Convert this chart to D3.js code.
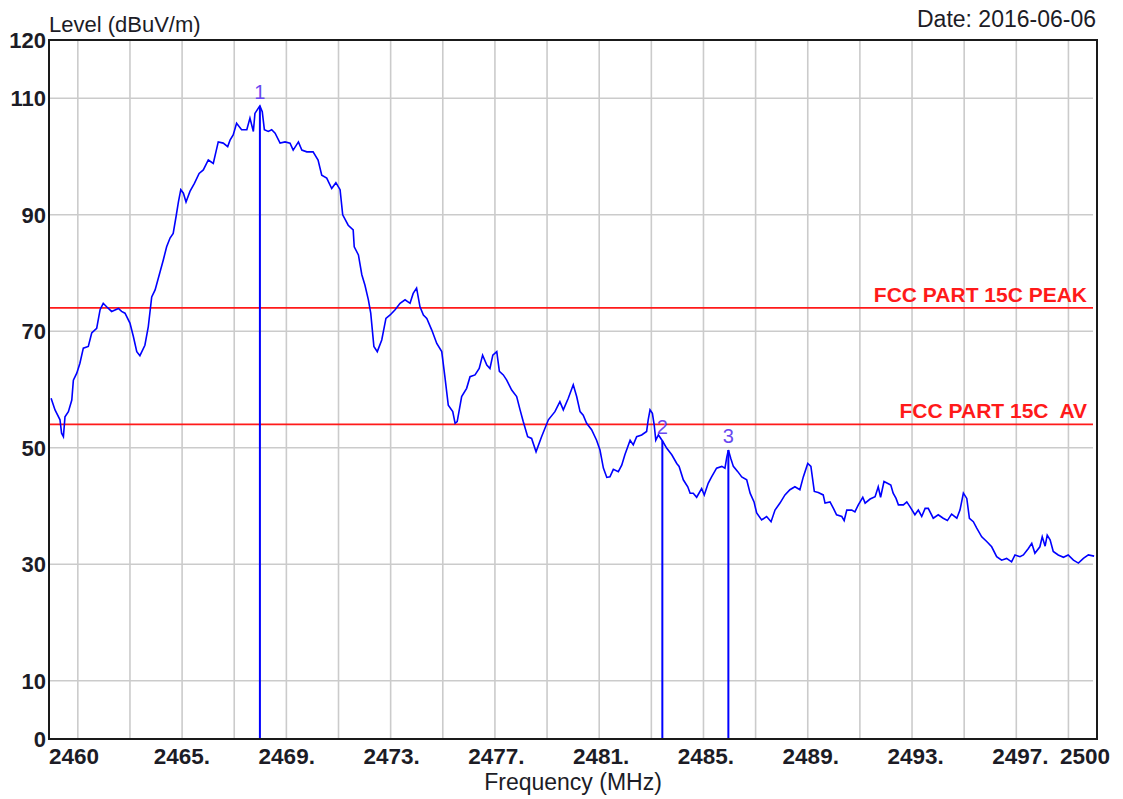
<!DOCTYPE html>
<html>
<head>
<meta charset="utf-8">
<script src="https://cdn.jsdelivr.net/npm/d3@7"></script>
<style>
  html, body { margin: 0; padding: 0; background: #fff; }
  text { font-family: "Liberation Sans", Arial, sans-serif; }
</style>
</head>
<body>
<div id="viz"></div>
<script>
'use strict';

// trace: [frequency MHz, level dBuV/m]
const trace = [
  [2460.08, 58.5], [2460.23, 56.5], [2460.42, 54.8], [2460.48, 52.5], [2460.55, 51.9],
  [2460.61, 55.3], [2460.74, 56.2], [2460.87, 58.2], [2460.93, 61.6], [2461.06, 62.8],
  [2461.18, 64.5], [2461.31, 67.1], [2461.50, 67.4], [2461.63, 69.7], [2461.82, 70.5],
  [2461.95, 73.7], [2462.07, 74.8], [2462.20, 74.2], [2462.39, 73.4], [2462.65, 73.9],
  [2462.77, 73.4], [2462.90, 73.1], [2463.09, 71.4], [2463.22, 69.1], [2463.35, 66.5],
  [2463.47, 65.8], [2463.66, 67.6], [2463.79, 70.8], [2463.92, 75.9], [2464.05, 77.1],
  [2464.24, 80.2], [2464.36, 82.2], [2464.49, 84.5], [2464.62, 86.0], [2464.74, 86.8],
  [2464.85, 89.7], [2464.94, 92.2], [2465.03, 94.3], [2465.13, 93.7], [2465.23, 92.2],
  [2465.38, 94.0], [2465.55, 95.4], [2465.73, 97.1], [2465.89, 97.7], [2466.08, 99.4],
  [2466.27, 98.8], [2466.46, 102.5], [2466.65, 102.3], [2466.82, 101.7], [2466.91, 102.8],
  [2467.03, 103.7], [2467.16, 105.7], [2467.35, 104.6], [2467.55, 104.6], [2467.67, 106.6],
  [2467.80, 104.3], [2467.86, 107.4], [2467.99, 108.3], [2468.05, 108.7], [2468.14, 107.7],
  [2468.22, 104.6], [2468.37, 104.3], [2468.50, 104.6], [2468.63, 104.0], [2468.82, 102.3],
  [2469.01, 102.5], [2469.20, 102.3], [2469.32, 101.1], [2469.52, 102.5], [2469.65, 101.1],
  [2469.84, 100.8], [2470.08, 100.8], [2470.27, 99.4], [2470.41, 96.8], [2470.60, 96.3],
  [2470.79, 94.5], [2470.95, 95.5], [2471.11, 94.3], [2471.21, 90.0], [2471.42, 88.2],
  [2471.61, 87.4], [2471.65, 84.5], [2471.81, 83.1], [2471.94, 79.7], [2472.06, 77.9],
  [2472.19, 75.4], [2472.28, 73.1], [2472.40, 67.4], [2472.53, 66.5], [2472.70, 68.5],
  [2472.86, 72.2], [2473.02, 72.8], [2473.21, 73.7], [2473.40, 74.8], [2473.59, 75.4],
  [2473.78, 74.8], [2473.90, 76.5], [2474.03, 77.4], [2474.16, 74.2], [2474.29, 72.8],
  [2474.42, 72.2], [2474.61, 70.2], [2474.80, 67.9], [2474.99, 66.5], [2475.11, 62.2],
  [2475.24, 57.3], [2475.41, 56.2], [2475.50, 54.2], [2475.58, 54.5], [2475.75, 58.8],
  [2475.94, 60.2], [2476.07, 62.2], [2476.26, 62.5], [2476.42, 63.6], [2476.55, 65.9],
  [2476.71, 64.2], [2476.83, 63.6], [2476.94, 65.9], [2477.09, 66.5], [2477.19, 63.1],
  [2477.34, 62.5], [2477.47, 61.6], [2477.66, 59.9], [2477.85, 58.8], [2477.98, 56.5],
  [2478.10, 54.5], [2478.27, 51.9], [2478.42, 51.6], [2478.59, 49.3], [2478.80, 51.9],
  [2479.06, 54.8], [2479.31, 56.2], [2479.50, 57.9], [2479.63, 56.5], [2479.82, 58.5],
  [2480.01, 60.8], [2480.14, 58.8], [2480.27, 56.2], [2480.39, 55.6], [2480.52, 54.2],
  [2480.71, 53.1], [2480.90, 51.3], [2481.03, 49.6], [2481.16, 46.5], [2481.29, 44.9],
  [2481.41, 45.0], [2481.54, 46.3], [2481.73, 45.9], [2481.86, 47.0], [2481.98, 48.8],
  [2482.18, 51.3], [2482.30, 50.5], [2482.43, 51.9], [2482.62, 52.2], [2482.81, 52.8],
  [2482.87, 54.8], [2482.94, 56.5], [2483.03, 55.9], [2483.10, 53.9], [2483.16, 51.3],
  [2483.26, 52.2], [2483.41, 51.2], [2483.58, 49.9], [2483.77, 48.8], [2483.96, 47.3],
  [2484.05, 46.8], [2484.21, 44.5], [2484.38, 43.3], [2484.47, 42.2], [2484.59, 42.2],
  [2484.72, 41.5], [2484.91, 43.0], [2485.01, 41.9], [2485.16, 43.9], [2485.29, 45.0],
  [2485.48, 46.5], [2485.68, 46.8], [2485.80, 46.5], [2485.87, 48.4], [2485.93, 49.6],
  [2486.02, 48.2], [2486.12, 46.8], [2486.29, 45.9], [2486.44, 45.0], [2486.63, 44.5],
  [2486.76, 42.2], [2486.91, 40.7], [2487.01, 38.8], [2487.20, 37.6], [2487.39, 38.2],
  [2487.56, 37.3], [2487.71, 39.3], [2487.90, 40.5], [2488.09, 41.9], [2488.28, 42.8],
  [2488.47, 43.3], [2488.66, 42.8], [2488.79, 45.0], [2488.96, 47.3], [2489.08, 46.8],
  [2489.21, 42.5], [2489.36, 42.3], [2489.55, 41.9], [2489.62, 40.5], [2489.81, 40.7],
  [2489.94, 39.6], [2490.06, 38.5], [2490.26, 38.2], [2490.35, 37.5], [2490.45, 39.3],
  [2490.64, 39.3], [2490.76, 39.0], [2490.89, 40.2], [2491.06, 41.5], [2491.15, 40.5],
  [2491.34, 41.2], [2491.53, 41.6], [2491.65, 43.3], [2491.74, 41.5], [2491.87, 44.2],
  [2492.00, 43.9], [2492.13, 43.6], [2492.22, 42.2], [2492.33, 41.3], [2492.42, 40.2],
  [2492.61, 40.2], [2492.74, 40.7], [2492.86, 39.9], [2493.05, 38.5], [2493.18, 39.3],
  [2493.31, 38.2], [2493.44, 39.6], [2493.56, 39.6], [2493.75, 37.9], [2493.94, 38.5],
  [2494.13, 37.9], [2494.29, 37.5], [2494.45, 38.6], [2494.65, 37.9], [2494.77, 39.3],
  [2494.90, 42.2], [2495.03, 41.3], [2495.13, 37.9], [2495.28, 37.3], [2495.41, 36.2],
  [2495.60, 34.7], [2495.79, 33.9], [2495.98, 33.0], [2496.17, 31.3], [2496.36, 30.7],
  [2496.55, 31.0], [2496.74, 30.4], [2496.87, 31.6], [2497.06, 31.3], [2497.19, 31.6],
  [2497.38, 32.7], [2497.51, 33.6], [2497.63, 31.9], [2497.82, 33.0], [2497.91, 34.7],
  [2498.02, 33.1], [2498.10, 35.0], [2498.21, 34.2], [2498.33, 32.2], [2498.52, 31.6],
  [2498.72, 31.2], [2498.90, 31.6], [2499.10, 30.7], [2499.29, 30.2], [2499.48, 31.0],
  [2499.67, 31.6], [2499.89, 31.4]
];

const markerIds = ['1', '2', '3'];
const markerFreqs = [2468.05, 2483.41, 2485.93];
const markerLevels = [108.7, 51.2, 49.6];

const limitLevels = [74, 54];
const limitLabels = ['FCC PART 15C PEAK', 'FCC PART 15C  AV'];

const yTicks = [120, 110, 90, 70, 50, 30, 10, 0];
const xTickFreqs = [2460, 2464, 2468, 2472, 2476, 2480, 2484, 2488, 2492, 2496, 2500];
const xTickLabels = ['2460', '2465.', '2469.', '2473.', '2477.', '2481.',
  '2485.', '2489.', '2493.', '2497.', '2500'];

const W = 1123;
const H = 799;
const margin = {top: 40, right: 26, bottom: 60, left: 49};
const width = W - margin.left - margin.right;
const height = H - margin.top - margin.bottom;

const ink = '#1c1c26';

const svg = d3.select('#viz')
  .append('svg')
    .attr('width', W)
    .attr('height', H)
    .style('display', 'block');

svg.append('rect')
  .attr('width', W)
  .attr('height', H)
  .attr('fill', '#fff');

const g = svg.append('g')
  .attr('transform', `translate(${margin.left},${margin.top})`);

const x = d3.scaleLinear()
  .domain([2460, 2500])
  .range([0, width]);

const y = d3.scaleLinear()
  .domain([0, 120])
  .range([height, 0]);

// grid: verticals sit on their own 2 MHz-ish raster, offset from the labels
const gridFreqs = d3.range(20).map(i => 2461.1 + i * 1.99);

g.append('g')
  .selectAll('line')
  .data(gridFreqs)
  .join('line')
    .attr('x1', d => x(d))
    .attr('x2', d => x(d))
    .attr('y1', 0)
    .attr('y2', height)
    .attr('stroke', '#cbcbcb')
    .attr('stroke-width', 1.6);

g.append('g')
  .selectAll('line')
  .data(yTicks.filter(d => d > 0 && d < 120))
  .join('line')
    .attr('x1', 0)
    .attr('x2', width - 4)
    .attr('y1', d => y(d))
    .attr('y2', d => y(d))
    .attr('stroke', '#cbcbcb')
    .attr('stroke-width', 1.6);

// limit lines
g.append('g')
  .selectAll('line')
  .data(limitLevels)
  .join('line')
    .attr('x1', 0)
    .attr('x2', width - 4)
    .attr('y1', d => y(d))
    .attr('y2', d => y(d))
    .attr('stroke', '#ff1a1a')
    .attr('stroke-width', 1.8);

g.append('g')
  .selectAll('text')
  .data(limitLevels)
  .join('text')
    .attr('x', width - 10)
    .attr('y', d => y(d) - 6)
    .attr('text-anchor', 'end')
    .attr('fill', '#ff1a1a')
    .style('font-size', '21px')
    .style('font-weight', 'bold')
    .style('white-space', 'pre')
    .text((d, i) => limitLabels[i]);

// trace
g.append('path')
  .datum(trace)
  .attr('fill', 'none')
  .attr('stroke', '#0000ff')
  .attr('stroke-width', 1.6)
  .attr('stroke-linejoin', 'miter')
  .attr('d', d3.line()
    .x(d => x(d[0]))
    .y(d => y(d[1]))
  );

// markers
const markers = markerIds.map((id, i) => ({id, f: markerFreqs[i], l: markerLevels[i]}));

g.append('g')
  .selectAll('line')
  .data(markers)
  .join('line')
    .attr('x1', d => x(d.f))
    .attr('x2', d => x(d.f))
    .attr('y1', d => y(d.l))
    .attr('y2', height)
    .attr('stroke', '#0000ff')
    .attr('stroke-width', 2);

g.append('g')
  .selectAll('text')
  .data(markers)
  .join('text')
    .attr('x', d => x(d.f))
    .attr('y', d => y(d.l) - 7)
    .attr('text-anchor', 'middle')
    .attr('fill', '#6a48f0')
    .style('font-size', '20px')
    .text(d => d.id);

// frame
g.append('rect')
  .attr('width', width)
  .attr('height', height)
  .attr('fill', 'none')
  .attr('stroke', '#1a1a1a')
  .attr('stroke-width', 2);

// y tick labels
g.append('g')
  .selectAll('text')
  .data(yTicks)
  .join('text')
    .attr('x', -3)
    .attr('y', d => y(d))
    .attr('dy', '0.36em')
    .attr('text-anchor', 'end')
    .attr('fill', ink)
    .style('font-size', '22px')
    .style('font-weight', 'bold')
    .text(d => d);

// x tick labels
g.append('g')
  .selectAll('text')
  .data(xTickFreqs)
  .join('text')
    .attr('x', (d, i) => i === xTickFreqs.length - 1 ? x(d) + 13 : x(d))
    .attr('y', height + 25)
    .attr('text-anchor', (d, i) => i === xTickFreqs.length - 1 ? 'end' : 'start')
    .attr('fill', ink)
    .style('font-size', '22.5px')
    .style('font-weight', 'bold')
    .text((d, i) => xTickLabels[i]);

// titles
svg.append('text')
  .attr('x', margin.left)
  .attr('y', 32)
  .attr('fill', ink)
  .style('font-size', '22px')
  .text('Level (dBuV/m)');

svg.append('text')
  .attr('x', margin.left + width - 1)
  .attr('y', 27)
  .attr('text-anchor', 'end')
  .attr('fill', ink)
  .style('font-size', '23px')
  .text('Date: 2016-06-06');

svg.append('text')
  .attr('x', margin.left + width / 2)
  .attr('y', 790)
  .attr('text-anchor', 'middle')
  .attr('fill', ink)
  .style('font-size', '23px')
  .text('Frequency (MHz)');
</script>
</body>
</html>
